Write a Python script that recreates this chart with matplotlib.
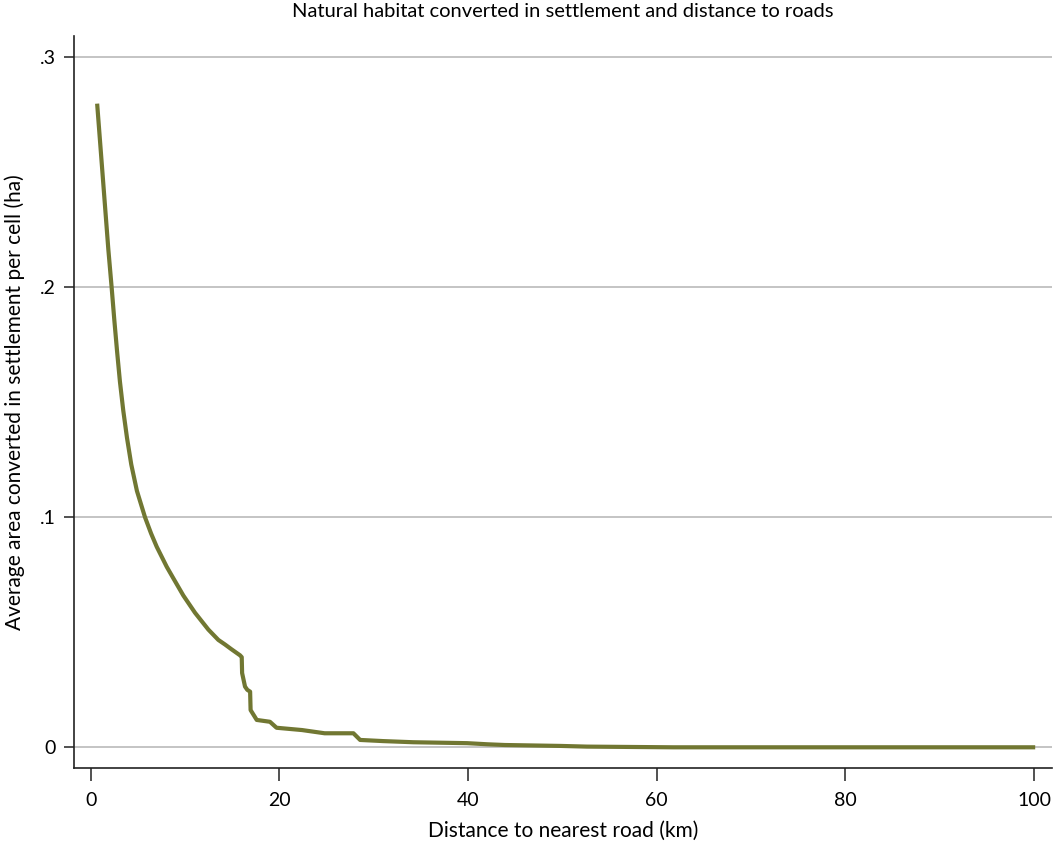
import numpy as np
import matplotlib.pyplot as plt

plt.rcParams['font.family'] = ['Lato', 'DejaVu Sans']

# distance to nearest road (km) and mean converted area (ha) per cell
dist_km = [0.70, 1.30, 1.87, 2.22, 2.50, 2.80, 3.10, 3.45, 3.85, 4.30,
           4.90, 5.76, 6.40, 7.00, 8.06, 8.76, 9.82, 11.06, 12.47, 13.53,
           14.24, 14.9, 15.83, 16.01, 16.05, 16.36, 16.6, 16.9, 16.95, 17.6,
           19.0, 19.7, 22.4, 24.8, 27.85, 28.56, 31.0, 34.2, 39.9, 42.1,
           43.9, 49.8, 52.6, 61.8, 99.9]
area_ha = [0.2790, 0.2470, 0.2165, 0.2000, 0.1860, 0.1720, 0.1590, 0.1465, 0.1345, 0.1230,
           0.1115, 0.1000, 0.0930, 0.0872, 0.0785, 0.0735, 0.0660, 0.0585, 0.0512, 0.0467,
           0.0447, 0.0427, 0.0400, 0.0392, 0.0323, 0.0264, 0.0250, 0.0242, 0.0162, 0.0119,
           0.0111, 0.0085, 0.0075, 0.0061, 0.0061, 0.0032, 0.0027, 0.0022, 0.0018, 0.0013,
           0.0010, 0.0006, 0.0003, 0.0, 0.0]

xticks = [0, 20, 40, 60, 80, 100]
yticks = [0, 0.1, 0.2, 0.3]
ylabels = ['0', '.1', '.2', '.3']

fig = plt.figure(figsize=(10.61, 8.46), dpi=100)
ax = fig.add_axes([0.0693, 0.0922, 0.9222, 0.8652])

for y in yticks:
    ax.axhline(y, color='#b4b4b4', lw=1.1, zorder=1)

ax.plot(dist_km, area_ha, color='#717732', lw=3.0, solid_joinstyle='round', zorder=3)

ax.set_xlim(-1.82, 101.9)
ax.set_ylim(-0.009, 0.3093)
ax.set_xticks(xticks)
ax.set_yticks(yticks)
ax.set_yticklabels(ylabels)

for s in ['top', 'right']:
    ax.spines[s].set_visible(False)
for s in ['left', 'bottom']:
    ax.spines[s].set_linewidth(1.2)
    ax.spines[s].set_color('#222222')

ax.tick_params(axis='x', length=9, width=1.1, color='#222222', labelsize=14, pad=8)
ax.tick_params(axis='y', length=7.5, width=1.1, color='#222222', labelsize=14, pad=5)

ax.set_xlabel('Distance to nearest road (km)', fontsize=15, labelpad=9)
ax.set_ylabel('Average area converted in settlement per cell (ha)', fontsize=15, labelpad=11)
ax.set_title('Natural habitat converted in settlement and distance to roads',
             fontsize=14.5, pad=14)

fig.savefig('out.png', dpi=100)
